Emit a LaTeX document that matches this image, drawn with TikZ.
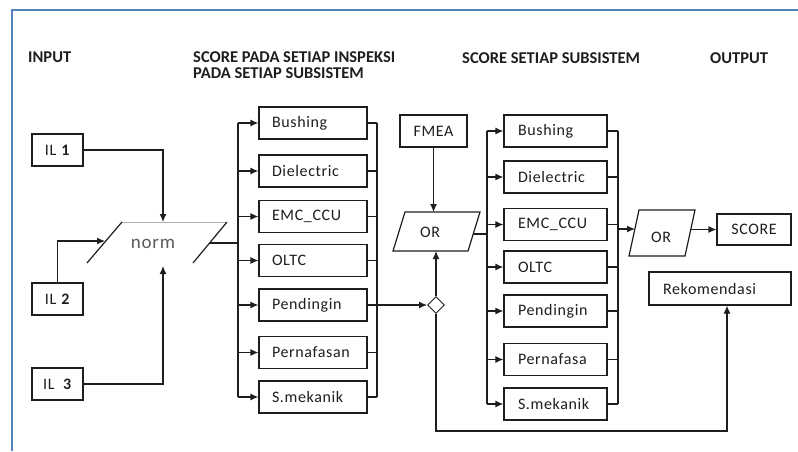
\documentclass[tikz,border=0pt]{standalone}
\usepackage{fontspec}
\setmainfont{Carlito}
\newfontfamily\boxfont[LetterSpace=4]{Carlito}
\usetikzlibrary{positioning,arrows.meta,shapes.geometric}
\definecolor{frameB}{RGB}{79,129,189}
\definecolor{ink}{RGB}{30,30,30}
\definecolor{normTop}{RGB}{175,175,175}
\definecolor{normTxt}{RGB}{90,90,90}

\begin{document}
\begin{tikzpicture}[
  x=1pt, y=-1pt,
  font=\boxfont\fontsize{16}{19}\selectfont,
  head/.style={font=\fontsize{16.5}{16}\selectfont\bfseries, text=ink, inner sep=0pt, anchor=base west},
  box/.style={draw=ink, line width=1.2pt, text=ink, minimum height=32pt, inner ysep=0pt},
  subL/.style={box, text width=82pt, inner xsep=13pt, align=left},
  subR/.style={box, text width=75pt, inner xsep=14pt, align=left},
  label/.style={inner sep=0pt, text=ink},
  line/.style={draw=ink, line width=1.2pt},
  flow/.style={line, -{Latex[length=8pt,width=7pt]}},
]
\useasboundingbox (0,0) rectangle (798,451);
\fill[white] (0,0) rectangle (798,451);
\draw[frameB, line width=2pt] (12,451) -- (12,10) -- (798,10);

% ---- column headings ----
\node[head] (hIn)   at (28,62)  {INPUT};
\node[head, align=left] (hInsp) at (193,78) {SCORE PADA SETIAP INSPEKSI\\PADA SETIAP SUBSISTEM};
\node[head] (hSub)  at (462,63) {SCORE SETIAP SUBSISTEM};
\node[head] (hOut)  at (710,63) {OUTPUT};

% ---- inputs and normalisation ----
\node[box, minimum width=51pt] (il1) at (57.5,150) {IL \textbf{1}};
\node[box, minimum width=51pt] (il2) at (57.5,299) {IL \textbf{2}};
\node[box, minimum width=51pt] (il3) at (57.5,384) {IL\ \ \textbf{3}};

\node[label, text=normTxt, font=\boxfont\fontsize{19}{19}\selectfont] (norm) at (153,244) {norm};
\coordinate (nBL) at (87,263);
\coordinate (nTL) at (122,222);
\coordinate (nTR) at (227,222);
\coordinate (nBR) at (193,263);
\coordinate (nTop) at (163,222);
\coordinate (nBot) at (163,266);
\coordinate (nIn)  at (105,241);
\coordinate (nOut) at (210,243);
\draw[normTop, line width=0.8pt] (nTL) -- (nTR);
\draw[line] (nBL) -- (nTL);
\draw[line] (nBR) -- (nTR);

\draw[flow] (il1.east) -| (nTop);
\draw[flow] (il3.east) -| (nBot);
\draw[flow] (il2.north) |- (nIn);

% ---- score per inspection ----
\node[subL] (lBush) at (313,123)   {Bushing};
\node[subL] (lDiel) at (313,171)   {Dielectric};
\node[subL] (lEmc)  at (313,216.5) {EMC\_CCU};
\node[subL] (lOltc) at (313,260.5) {OLTC};
\node[subL] (lPend) at (313,305)   {Pendingin};
\node[subL] (lPern) at (313,352.5) {Pernafasan};
\node[subL] (lMek)  at (313,397)   {S.mekanik};

\coordinate (inbus)  at (238,0);
\coordinate (outbus) at (377,0);
\draw[line] (nOut) -- (inbus |- nOut);
\draw[line] (inbus |- lBush.west) -- (inbus |- lMek.west);
\draw[line] (outbus |- lBush.east) -- (outbus |- lMek.east);
\foreach \n in {lBush,lDiel,lEmc,lOltc,lPend,lPern,lMek}{
  \draw[flow] (inbus |- \n.west) -- (\n.west);
  \draw[line] (\n.east) -- (outbus |- \n.east);
}

% ---- FMEA merge ----
\node[box, minimum width=67pt] (fmea) at (433.5,131) {FMEA};
\node[label] (or1) at (430,232) {OR};
\coordinate (o1BL) at (393,251);
\coordinate (o1TL) at (405,212);
\coordinate (o1TR) at (480,212);
\coordinate (o1BR) at (468,251);
\coordinate (o1Out) at (473,234);
\draw[line] (o1BL) -- (o1TL) -- (o1TR) -- (o1BR) -- cycle;
\node[diamond, draw=ink, line width=0.9pt, minimum size=17pt, inner sep=0pt] (dia) at (436,305) {};
\draw[flow] (lPend.east) -- (dia.west);
\draw[flow] (fmea.south) -- (fmea.south |- o1TL);
\draw[flow] (dia.north) -- (dia.north |- o1BL);

% ---- score per subsystem ----
\node[subR] (rBush) at (555.5,131)   {Bushing};
\node[subR] (rDiel) at (555.5,177)   {Dielectric};
\node[subR] (rEmc)  at (555.5,224.5) {EMC\_CCU};
\node[subR] (rOltc) at (555.5,267)   {OLTC};
\node[subR] (rPend) at (555.5,311)   {Pendingin};
\node[subR] (rPern) at (555.5,359.5) {Pernafasa};
\node[subR] (rMek)  at (555.5,404)   {S.mekanik};

\coordinate (bus2) at (487,0);
\coordinate (bus3) at (618,0);
\draw[line] (o1Out) -- (bus2 |- o1Out);
\draw[line] (bus2 |- rBush.west) -- (bus2 |- rMek.west);
\draw[line] (bus3 |- rBush.east) -- (bus3 |- rMek.east);
\foreach \n in {rBush,rDiel,rEmc,rOltc,rPend,rPern,rMek}{
  \draw[flow] (bus2 |- \n.west) -- (\n.west);
  \draw[line] (\n.east) -- (bus3 |- \n.east);
}

% ---- output ----
\node[label] (or2) at (661,237) {OR};
\coordinate (o2BL) at (629,256);
\coordinate (o2TL) at (639,210);
\coordinate (o2TR) at (695,210);
\coordinate (o2BR) at (685,256);
\coordinate (o2In)  at (635,229);
\coordinate (o2Out) at (690,229.5);
\draw[line] (o2BL) -- (o2TL) -- (o2TR) -- (o2BR) -- cycle;
\node[box, minimum width=74pt, minimum height=31pt] (score) at (754,229.5) {SCORE};
\node[box, text width=114pt, inner xsep=14pt, align=left, minimum height=33pt] (rekom) at (720,288.5) {Rekomendasi};
\draw[flow] (bus3 |- o2In) -- (o2In);
\draw[flow] (o2Out) -- (score.west);

\coordinate (loop) at (727,431);
\draw[flow] (dia.south) |- (loop) -- (loop |- rekom.south);

\end{tikzpicture}
\end{document}
